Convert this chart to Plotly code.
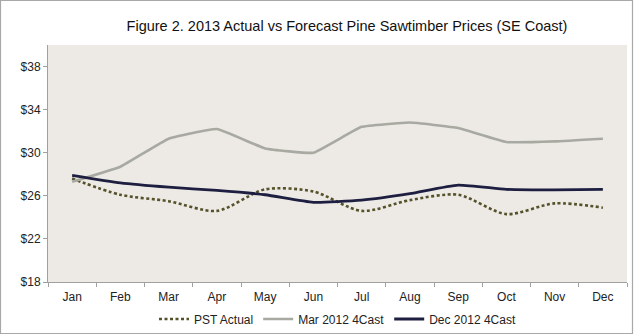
import plotly.graph_objects as go

months = ["Jan", "Feb", "Mar", "Apr", "May", "Jun", "Jul", "Aug", "Sep", "Oct", "Nov", "Dec"]
pst_actual = [27.6, 26.1, 25.5, 24.6, 26.6, 26.4, 24.6, 25.6, 26.1, 24.3, 25.3, 24.9]
mar_2012_4cast = [27.3, 28.7, 31.3, 32.2, 30.4, 30.0, 32.4, 32.8, 32.3, 31.0, 31.05, 31.3]
dec_2012_4cast = [27.9, 27.2, 26.8, 26.5, 26.1, 25.4, 25.6, 26.2, 27.0, 26.6, 26.55, 26.6]
y_ticks = [18, 22, 26, 30, 34, 38]

FONT = "Liberation Sans, Arial, sans-serif"

fig = go.Figure()
fig.add_trace(go.Scatter(
    x=months, y=pst_actual, name="PST Actual", mode="lines",
    line=dict(color="#55512A", width=2.6, dash="3px,2.5px", shape="spline", smoothing=0.8),
))
fig.add_trace(go.Scatter(
    x=months, y=mar_2012_4cast, name="Mar 2012 4Cast", mode="lines",
    line=dict(color="#A8AAA1", width=2.6, shape="spline", smoothing=0.3),
))
fig.add_trace(go.Scatter(
    x=months, y=dec_2012_4cast, name="Dec 2012 4Cast", mode="lines",
    line=dict(color="#1E1F40", width=2.8, shape="spline", smoothing=0.5),
))

fig.update_layout(
    width=640, height=336,
    margin=dict(l=48, r=13, t=45, b=54, autoexpand=False),
    paper_bgcolor="white",
    plot_bgcolor="#EDEAE6",
    font=dict(family=FONT, size=12, color="#222222"),
    title=dict(
        text="Figure 2. 2013 Actual vs Forecast Pine Sawtimber Prices (SE Coast)",
        x=347 / 640, xref="paper" if False else "container", xanchor="center",
        y=1 - 26 / 336, yanchor="middle",
        font=dict(family=FONT, size=14.5, color="#111111"),
    ),
    showlegend=True,
    legend=dict(
        orientation="h", x=0.5, xanchor="center",
        yref="container", y=(336 - 319) / 336, yanchor="middle",
        font=dict(family=FONT, size=12, color="#222222"),
        bgcolor="rgba(0,0,0,0)", tracegroupgap=0,
    ),
    xaxis=dict(
        type="category", showgrid=False, showline=True, linecolor="#A0A0A0", linewidth=1,
        ticks="outside", ticklen=4, tickcolor="#A0A0A0", tickson="boundaries",
        range=[-0.5, 11.5], ticklabelstandoff=4,
    ),
    yaxis=dict(
        range=[18, 40], tickvals=y_ticks, ticktext=[f"${v}" for v in y_ticks],
        showgrid=False, showline=True, linecolor="#A0A0A0", linewidth=1,
        ticks="outside", ticklen=4, tickcolor="#A0A0A0", zeroline=False,
    ),
)

# outer chart border
fig.update_layout(shapes=[dict(
    type="rect", xref="paper", yref="paper",
    x0=(0.5 - 48) / 579, x1=(632.5 - 48) / 579,
    y0=(282 - 333.5) / 237, y1=(282 - 0.5) / 237,
    line=dict(color="#A8A8A8", width=1.2), fillcolor="rgba(0,0,0,0)",
)])

fig.write_html("out.html")
